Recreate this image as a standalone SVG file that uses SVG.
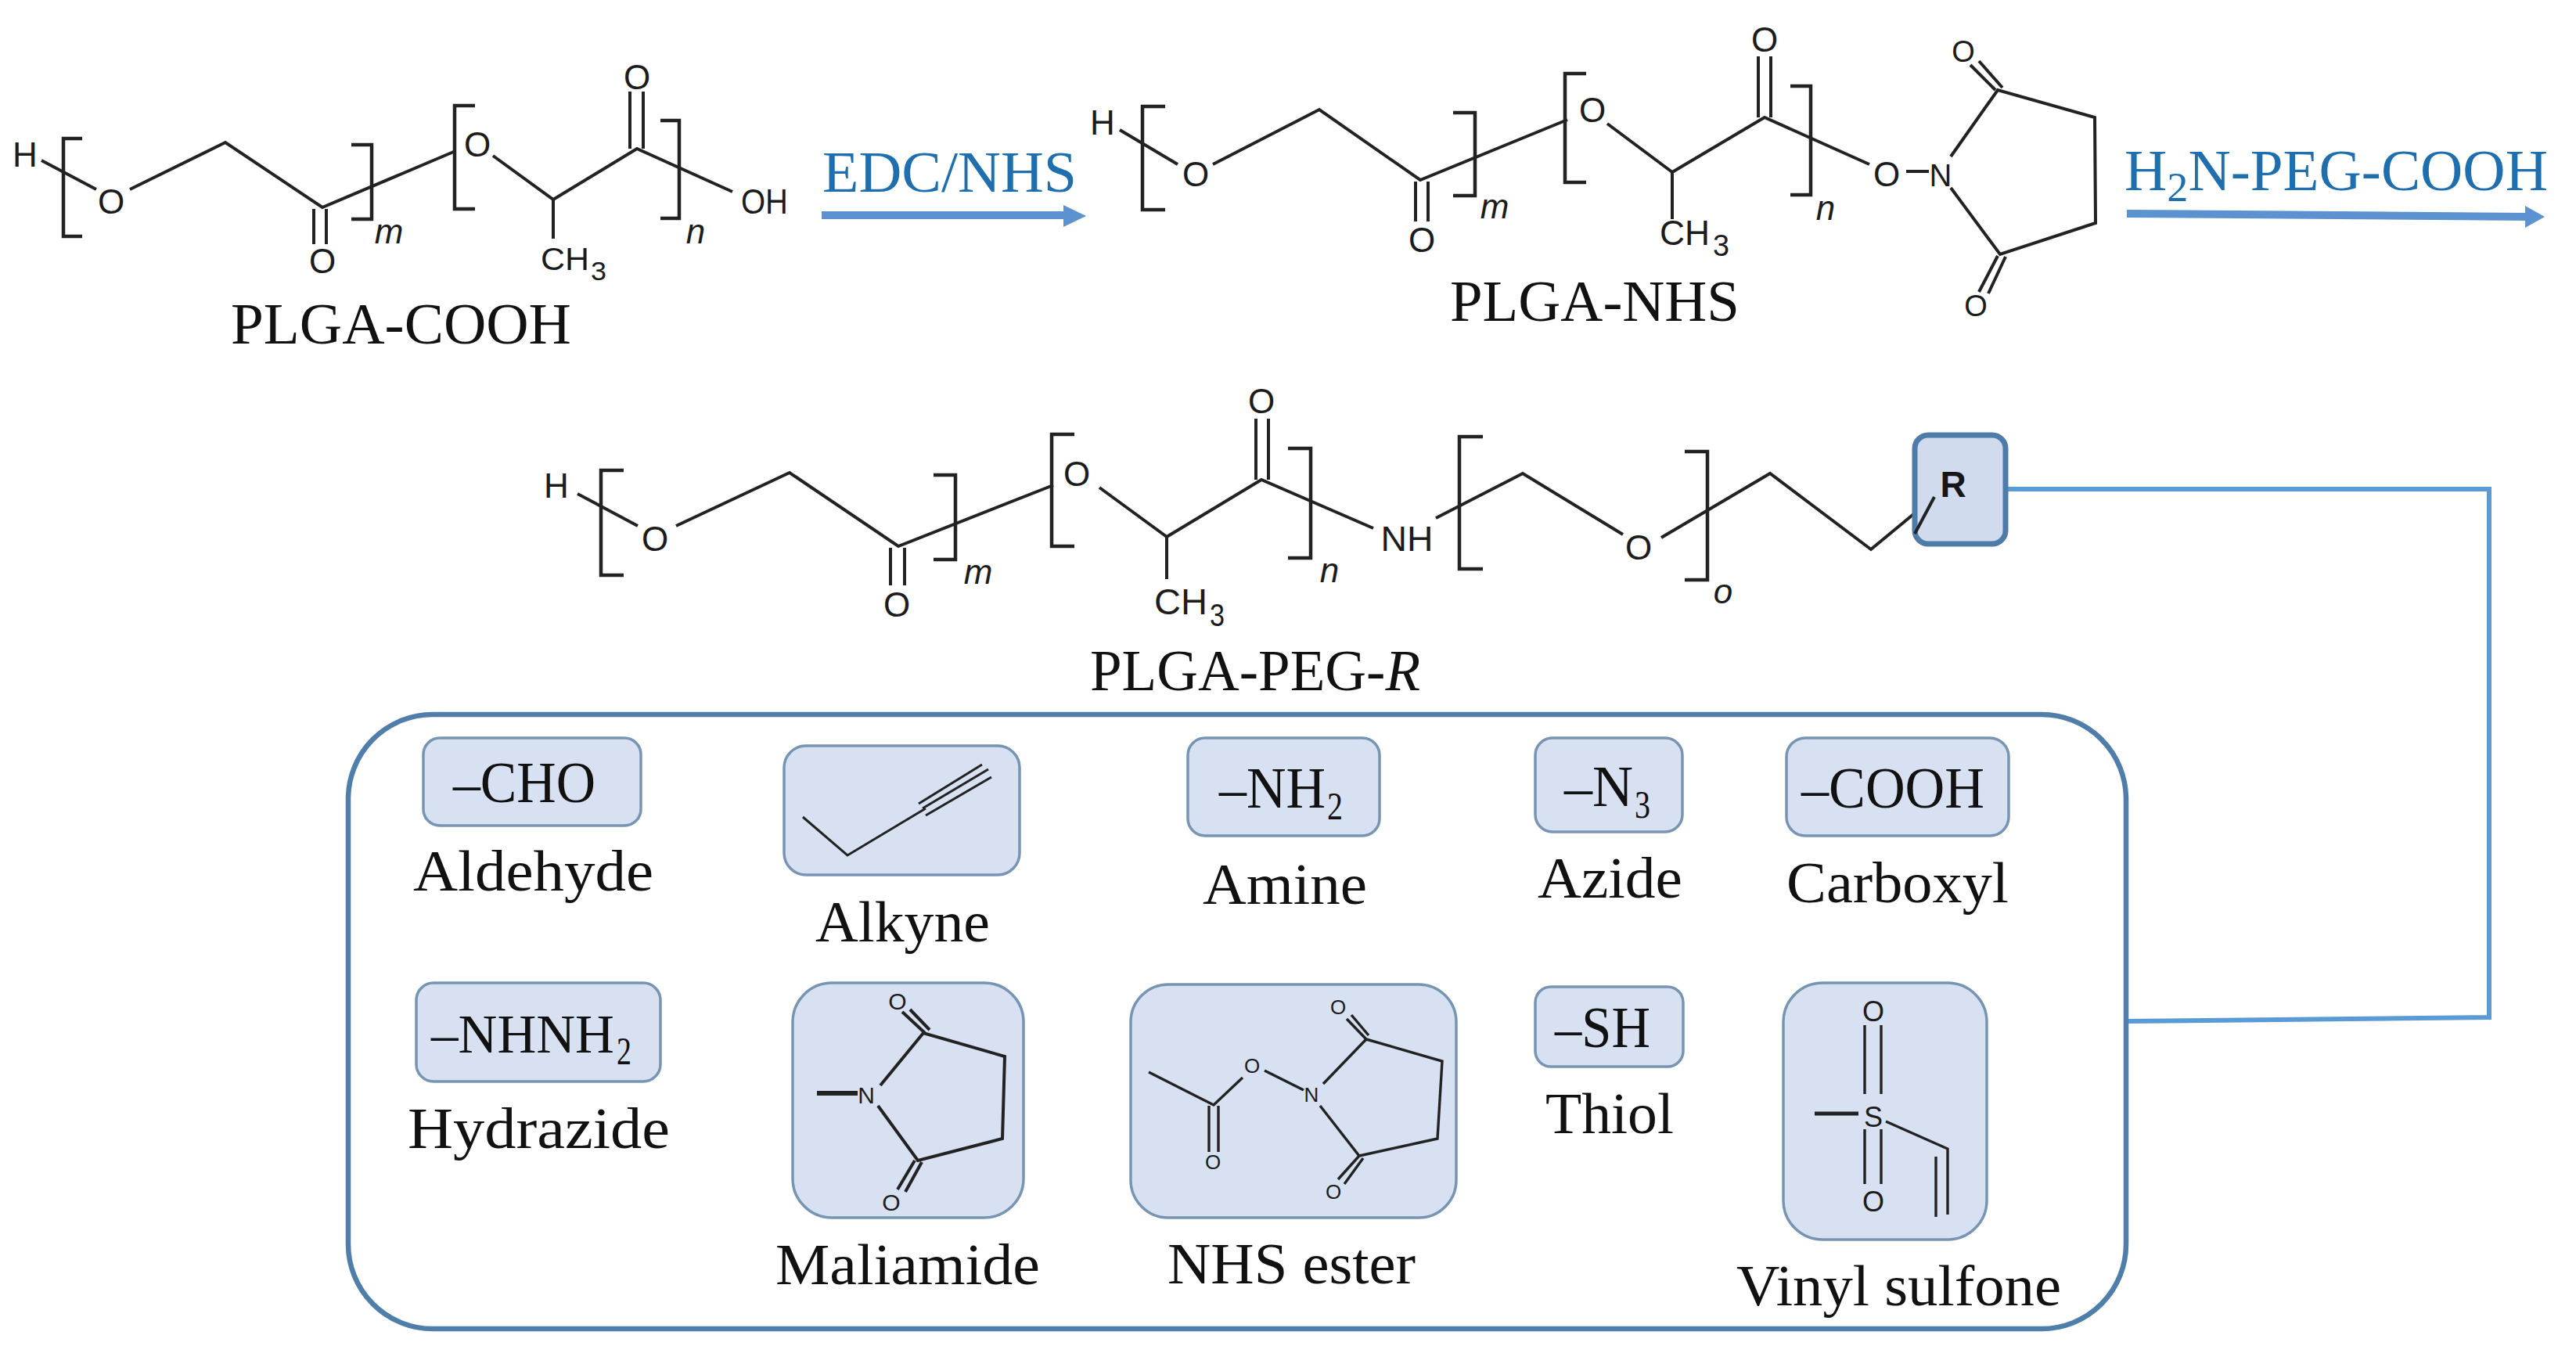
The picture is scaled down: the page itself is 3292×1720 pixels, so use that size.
<svg xmlns="http://www.w3.org/2000/svg" width="3292" height="1720" viewBox="0 0 3292 1720">
<style>
text{font-family:"Liberation Serif","Times New Roman",serif;fill:#111}
.lab{font-size:73px}
.sub{font-size:50px}
.rx{font-size:73px;fill:#1f6ead}
.chem text{font-family:"Liberation Sans",Arial,sans-serif;font-size:44px;text-anchor:middle;fill:#1c1c1c}
.chem text.st{text-anchor:start}
text.it{font-family:"Liberation Sans",Arial,sans-serif;font-size:44px;font-style:italic;text-anchor:middle;fill:#1c1c1c}
.b{fill:none;stroke:#222;stroke-width:4;stroke-linejoin:miter}
.br{fill:none;stroke:#222;stroke-width:4.5}
.box{fill:#d7e1f1;stroke:#7795b3;stroke-width:3.5}
.rbox{fill:#d0dcee;stroke:#4f7ba8;stroke-width:7}
.outer{fill:#fff;stroke:#4e7ea9;stroke-width:6.5}
.link{fill:none;stroke:#5b9bd5;stroke-width:6}
.arr{fill:none;stroke:#5b92cf;stroke-width:10}
.head{fill:#5b92cf}
.s{font-size:.72em}
</style>

<g id="plga-cooh">
 <path class="b" d="M53 205L123 242M166 242L288 182L412 265L582 193M630 199L707 255V305M707 255L814 190L936 245M401 267V312M417 267V312M805 190V117M822 190V117"/>
 <path class="br" d="M105 177H81V302H105M449 185H475V280H449M607 135H581V267H607M844 154H868V279H844"/>
 <g class="chem">
  <text x="32" y="213">H</text><text x="142" y="273">O</text><text x="412" y="349">O</text><text x="610" y="200">O</text><text x="814" y="114">O</text>
  <text x="977" y="273" textLength="60" lengthAdjust="spacingAndGlyphs">OH</text>
  <text class="st" x="691" y="345" textLength="62" lengthAdjust="spacingAndGlyphs" style="font-size:40px">CH</text>
  <text class="st" x="755" y="358" textLength="20" lengthAdjust="spacingAndGlyphs" style="font-size:34px">3</text>
 </g>
 <text class="it" x="497" y="311">m</text><text class="it" x="889" y="311">n</text>
 <text class="lab" x="295" y="439" textLength="435" lengthAdjust="spacingAndGlyphs">PLGA-COOH</text>
</g>

<g id="edc-nhs-step">
 <text class="rx" x="1051" y="245" textLength="325" lengthAdjust="spacingAndGlyphs">EDC/NHS</text>
</g>

<g id="plga-nhs">
 <path class="b" d="M1431 166L1505 210M1550 210L1686 140L1815 230L2003 153M2054 158L2137 220V280M2137 220L2255 150L2389 210M1809 232V283M1825 232V283M2247 150V72M2263 150V72M2436 219H2465M2493 200L2553 115L2677 150L2678 285L2556 325L2493 240M2518 83L2550 115M2529 78L2559 112M2553 327L2529 373M2563 328L2541 375"/>
 <path class="br" d="M1489 136H1460V268H1489M1857 144H1885V250H1857M2027 94H2000V233H2027M2288 110H2314V249H2288"/>
 <g class="chem">
  <text x="1409" y="172">H</text><text x="1528" y="238">O</text><text x="1817" y="322">O</text><text x="2035" y="156">O</text><text x="2255" y="66">O</text><text x="2411" y="238">O</text>
  <text x="2480" y="238" style="font-size:40px">N</text>
  <text x="2509" y="79" style="font-size:38px">O</text><text x="2525" y="404" style="font-size:38px">O</text>
  <text class="st" x="2121" y="313" textLength="64" lengthAdjust="spacingAndGlyphs">CH</text>
  <text class="st" x="2189" y="327" textLength="21" lengthAdjust="spacingAndGlyphs" style="font-size:38px">3</text>
 </g>
 <text class="it" x="1910" y="279">m</text><text class="it" x="2333" y="281">n</text>
 <text class="lab" x="1853" y="410" textLength="370" lengthAdjust="spacingAndGlyphs">PLGA-NHS</text>
</g>

<g id="h2n-peg-cooh-step">
 <text class="rx" x="2715" y="243" textLength="541" lengthAdjust="spacingAndGlyphs">H<tspan class="s" dy="14">2</tspan><tspan dy="-14">N-PEG-COOH</tspan></text>
</g>

<g id="plga-peg-r">
 <path class="b" d="M738 631L815 672M864 672L1009 604L1148 698L1346 620M1405 623L1491 686V740M1491 686L1612 613L1755 675M1138 700V748M1156 700V748M1605 613V535M1621 613V535M1835 662L1946 605L2074 683M2123 687L2262 605L2391 702L2472 635"/>
 <path class="br" d="M797 601H768V735H797M1193 607H1221V715H1193M1373 555H1344V698H1373M1646 573H1675V713H1646M1895 558H1865V727H1895M2153 577H2182V741H2153"/>
 <g class="chem">
  <text x="711" y="636">H</text><text x="837" y="704">O</text><text x="1146" y="788">O</text><text x="1376" y="621">O</text><text x="1612" y="528">O</text><text x="2094" y="715">O</text>
  <text x="1798" y="704" textLength="67" lengthAdjust="spacingAndGlyphs">NH</text>
  <text class="st" x="1475" y="785" textLength="68" lengthAdjust="spacingAndGlyphs" style="font-size:46px">CH</text>
  <text class="st" x="1546" y="800" textLength="19" lengthAdjust="spacingAndGlyphs" style="font-size:40px">3</text>
 </g>
 <text class="it" x="1250" y="746">m</text><text class="it" x="1699" y="744">n</text><text class="it" x="2202" y="771">o</text>
 <text class="lab" x="1393" y="882" textLength="422" lengthAdjust="spacingAndGlyphs">PLGA-PEG-<tspan font-style="italic">R</tspan></text>
</g>

<g id="connectors">
 <path class="arr" d="M1050 275H1362"/><path class="head" d="M1359 262L1388 276L1359 290Z"/>
 <path class="arr" d="M2718 273L3230 277"/><path class="head" d="M3227 263L3252 277L3227 291Z"/>
 <path class="link" d="M2563 625H3181V1300L2717 1305"/>
</g>

<g id="r-group">
 <rect class="rbox" x="2447" y="556" width="116" height="139" rx="17"/>
 <path class="b" d="M2447 682L2472 635"/>
 <text x="2496" y="635" style="font-family:'Liberation Sans',Arial,sans-serif;font-size:46px;font-weight:bold;text-anchor:middle;fill:#161616">R</text>
</g>

<g id="functional-groups">
 <rect class="outer" x="445" y="913" width="2272" height="785" rx="108"/>
</g>

<g id="aldehyde">
 <rect class="box" x="541" y="943" width="278" height="112" rx="21"/>
 <text class="lab" x="579" y="1025" textLength="182" lengthAdjust="spacingAndGlyphs">–CHO</text>
 <text class="lab" x="528" y="1138" textLength="307" lengthAdjust="spacingAndGlyphs">Aldehyde</text>
</g>
<g id="alkyne">
 <rect class="box" x="1002" y="953" width="301" height="165" rx="28"/>
 <path class="b" style="stroke-width:3" d="M1026 1044L1083 1093L1183 1033M1174 1027L1255 977M1179 1033L1263 983M1183 1042L1267 993"/>
 <text class="lab" x="1042" y="1203" textLength="223" lengthAdjust="spacingAndGlyphs">Alkyne</text>
</g>
<g id="amine">
 <rect class="box" x="1518" y="943" width="245" height="125" rx="22"/>
 <text class="lab" x="1558" y="1032" textLength="136" lengthAdjust="spacingAndGlyphs">–NH</text>
 <text class="sub" x="1696" y="1047" textLength="20" lengthAdjust="spacingAndGlyphs">2</text>
 <text class="lab" x="1537" y="1155" textLength="210" lengthAdjust="spacingAndGlyphs">Amine</text>
</g>
<g id="azide">
 <rect class="box" x="1962" y="943" width="188" height="120" rx="22"/>
 <text class="lab" x="1999" y="1030" textLength="88" lengthAdjust="spacingAndGlyphs">–N</text>
 <text class="sub" x="2089" y="1045" textLength="20" lengthAdjust="spacingAndGlyphs">3</text>
 <text class="lab" x="1965" y="1147" textLength="185" lengthAdjust="spacingAndGlyphs">Azide</text>
</g>
<g id="carboxyl">
 <rect class="box" x="2283" y="943" width="284" height="125" rx="24"/>
 <text class="lab" x="2302" y="1032" textLength="234" lengthAdjust="spacingAndGlyphs">–COOH</text>
 <text class="lab" x="2283" y="1153" textLength="284" lengthAdjust="spacingAndGlyphs">Carboxyl</text>
</g>
<g id="hydrazide">
 <rect class="box" x="532" y="1256" width="312" height="126" rx="22"/>
 <text class="lab" x="551" y="1345" textLength="234" lengthAdjust="spacingAndGlyphs" style="font-size:69px">–NHNH</text>
 <text class="sub" x="788" y="1360" textLength="19" lengthAdjust="spacingAndGlyphs">2</text>
 <text class="lab" x="521" y="1467" textLength="335" lengthAdjust="spacingAndGlyphs">Hydrazide</text>
</g>
<g id="maliamide">
 <rect class="box" x="1013" y="1256" width="295" height="300" rx="50"/>
 <path class="b" d="M1125 1387L1180 1320L1284 1350L1281 1455L1173 1483L1122 1413M1153 1293L1182 1320M1163 1290L1188 1316M1169 1483L1147 1520M1178 1485L1157 1523"/>
 <path class="b" style="stroke-width:6" d="M1044 1397H1096"/>
 <g class="chem">
  <text x="1107" y="1410" style="font-size:30px">N</text><text x="1147" y="1290" style="font-size:30px">O</text><text x="1139" y="1547" style="font-size:30px">O</text>
 </g>
 <text class="lab" x="991" y="1641" textLength="338" lengthAdjust="spacingAndGlyphs">Maliamide</text>
</g>
<g id="nhs-ester">
 <rect class="box" x="1445" y="1258" width="416" height="298" rx="48"/>
 <path class="b" style="stroke-width:3.4" d="M1468 1370L1551 1412L1588 1377M1616 1368L1666 1393M1691 1385L1746 1328L1843 1356L1837 1455L1737 1477L1687 1413M1545 1413V1472M1557 1413V1472M1721 1302L1746 1328M1727 1297L1749 1323M1710 1507L1737 1477M1718 1513L1742 1480"/>
 <g class="chem">
  <text x="1600" y="1371" style="font-size:26px">O</text><text x="1676" y="1408" style="font-size:26px">N</text><text x="1550" y="1494" style="font-size:26px">O</text><text x="1710" y="1296" style="font-size:26px">O</text><text x="1704" y="1532" style="font-size:26px">O</text>
 </g>
 <text class="lab" x="1492" y="1640" textLength="317" lengthAdjust="spacingAndGlyphs">NHS ester</text>
</g>
<g id="thiol">
 <rect class="box" x="1962" y="1261" width="189" height="102" rx="20"/>
 <text class="lab" x="1987" y="1338" textLength="122" lengthAdjust="spacingAndGlyphs">–SH</text>
 <text class="lab" x="1975" y="1448" textLength="164" lengthAdjust="spacingAndGlyphs">Thiol</text>
</g>
<g id="vinyl-sulfone">
 <rect class="box" x="2279" y="1256" width="260" height="328" rx="50"/>
 <path class="b" style="stroke-width:3.4" d="M2383 1310V1398M2404 1310V1398M2383 1443V1513M2404 1443V1513M2410 1433L2489 1468V1552M2474 1478V1555"/>
 <path class="b" style="stroke-width:5" d="M2319 1423H2375"/>
 <g class="chem">
  <text x="2394" y="1305" style="font-size:36px">O</text><text x="2394" y="1440" style="font-size:36px">S</text><text x="2394" y="1548" style="font-size:36px">O</text>
 </g>
 <text class="lab" x="2219" y="1668" textLength="415" lengthAdjust="spacingAndGlyphs">Vinyl sulfone</text>
</g>
</svg>
